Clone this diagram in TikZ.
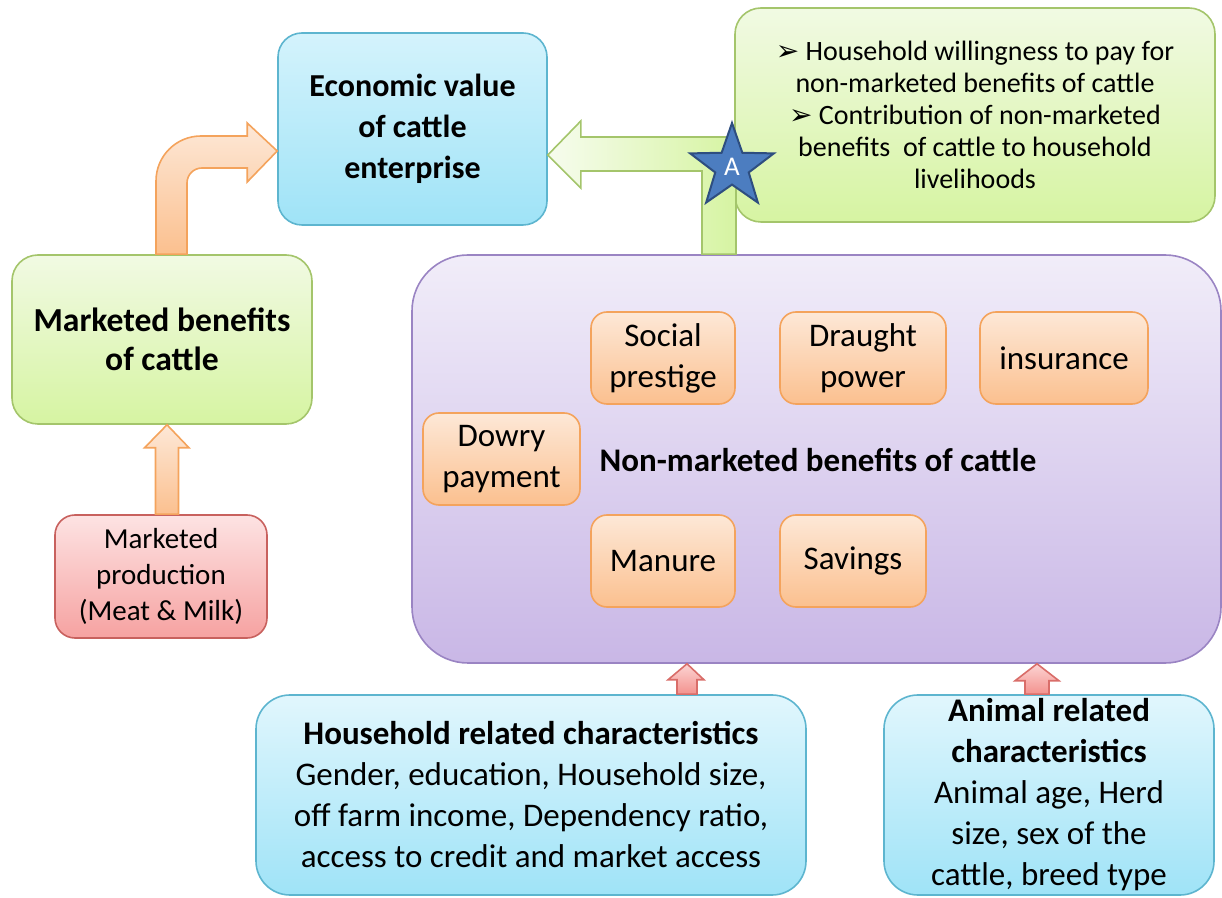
\documentclass[tikz,border=0pt]{standalone}
\usepackage{fontspec}
\setmainfont{Carlito}
\newfontfamily\symfont{DejaVu Sans}
\usetikzlibrary{calc,shapes.geometric}

\definecolor{skytop}{HTML}{D4F3FC}
\definecolor{skybot}{HTML}{9FE3F7}
\definecolor{skyline}{HTML}{5DB5CF}
\definecolor{leaftop}{HTML}{F1FAE3}
\definecolor{leafbot}{HTML}{D6F4A2}
\definecolor{leafline}{HTML}{A4C56B}
\definecolor{peachtop}{HTML}{FDE8D7}
\definecolor{peachbot}{HTML}{FBC08F}
\definecolor{peachline}{HTML}{F4A35C}
\definecolor{rosetop}{HTML}{FDE3E3}
\definecolor{rosebot}{HTML}{F6A2A1}
\definecolor{roseline}{HTML}{C8615E}
\definecolor{lilactop}{HTML}{F1EDF9}
\definecolor{lilacbot}{HTML}{C9B7E6}
\definecolor{lilacline}{HTML}{9A84C3}
\definecolor{pinktop}{HTML}{FCD4D3}
\definecolor{pinkbot}{HTML}{F3928E}
\definecolor{pinkline}{HTML}{D96D69}
\definecolor{starblue}{HTML}{4C7DC0}
\definecolor{starline}{HTML}{2E4E80}

\newcommand\pointer{{\symfont\char"27A2}\ }

\begin{document}
\begin{tikzpicture}[x=0.5pt,y=-0.5pt,
    box/.style={draw,line width=0.8pt,align=center,inner sep=0pt},
    valuebox/.style={box,rounded corners=12pt,top color=skytop,bottom color=skybot,draw=skyline},
    leafbox/.style={box,rounded corners=13pt,top color=leaftop,bottom color=leafbot,draw=leafline},
    rosebox/.style={box,rounded corners=10pt,top color=rosetop,bottom color=rosebot,draw=roseline},
    lilacbox/.style={box,rounded corners=28pt,top color=lilactop,bottom color=lilacbot,draw=lilacline},
    benefit/.style={box,rounded corners=8pt,top color=peachtop,bottom color=peachbot,draw=peachline,
      minimum height=46pt,font=\fontsize{16.5}{20.5}\selectfont},
    driver/.style={box,rounded corners=17pt,top color=skytop!70!white,bottom color=skybot,draw=skyline,
      minimum height=100pt,font=\fontsize{16.5}{20.5}\selectfont},
    peacharrow/.style={draw=peachline,line width=0.8pt,top color=peachtop,bottom color=peachbot},
    leafarrow/.style={draw=leafline,line width=0.8pt,left color=leaftop!60!white,right color=leafbot},
    pinkarrow/.style={draw=pinkline,line width=0.8pt,top color=pinktop,bottom color=pinkbot}]
\useasboundingbox (0,0) rectangle (1222,898);

% value and its two sources
\node[valuebox,minimum width=134.5pt,minimum height=96pt,font=\fontsize{16}{20.5}\selectfont\bfseries]
  (econ) at (412.5,129) {Economic value\\of cattle\\enterprise};
\node[leafbox,minimum width=240pt,minimum height=107pt,font=\fontsize{14}{16}\selectfont]
  (wtp) at (975,115) {\pointer Household willingness to pay for\\non-marketed benefits of cattle\\
  \pointer Contribution of non-marketed\\benefits~ of cattle to household\\livelihoods};
\node[leafbox,minimum width=150pt,minimum height=84.5pt,font=\fontsize{16.8}{19.5}\selectfont\bfseries]
  (mkt) at (162,339.5) {Marketed benefits\\of cattle};
\node[rosebox,minimum width=106pt,minimum height=61.5pt,font=\fontsize{14.5}{18}\selectfont]
  (prod) at (161,576.5) {Marketed\\production\\(Meat \& Milk)};

% non-marketed benefits
\node[lilacbox,minimum width=404.5pt,minimum height=204pt] (nonmkt) at (816.5,459) {};
\node[font=\fontsize{16.5}{20}\selectfont\bfseries] (nonlabel) at (818,460) {Non-marketed benefits of cattle};
\node[benefit,minimum width=72pt] (social) at (663,358) {Social\\prestige};
\node[benefit,minimum width=83pt] (draught) at (863,358) {Draught\\power};
\node[benefit,minimum width=84pt] (insur) at (1064,358) {insurance};
\node[benefit,minimum width=78.5pt] (dowry) at (501.5,459) {Dowry\\payment};
\node[benefit,minimum width=72pt] (manure) at (663,561) {Manure};
\node[benefit,minimum width=73pt] (savings) at (853,561) {Savings};

% characteristics
\node[driver,minimum width=275pt] (house) at (531,795)
  {\textbf{Household related characteristics}\\Gender, education, Household size,\\
  off farm income, Dependency ratio,\\access to credit and market access};
\node[driver,minimum width=165pt] (animal) at (1049,795)
  {\textbf{Animal related}\\\textbf{characteristics}\\Animal age, Herd\\size, sex of the\\cattle, breed type};

% block arrows
\coordinate (prodtail) at ([xshift=3pt]prod.north);
\coordinate (prodtip) at (prodtail |- mkt.south);
\filldraw[peacharrow] ($(prodtail)+(-11.5,0)$) -- ($(prodtip)+(-11.5,23)$) -- ++(-11,0) -- (prodtip)
  -- ($(prodtip)+(22,23)$) -- ++(-10.5,0) -- ($(prodtail)+(11.5,0)$) -- cycle;

\coordinate (bendtail) at ([xshift=4.75pt]mkt.north);
\coordinate (bendtip) at ([yshift=-11pt]econ.west);
\filldraw[peacharrow] ($(bendtail)+(-15.5,0)$) -- ($(bendtail |- bendtip)+(-15.5,30)$)
  arc[start angle=180,end angle=270,radius=45] -- ($(bendtip)+(-30,-15)$) -- ++(0,-13) -- (bendtip)
  -- ($(bendtip)+(-30,31)$) -- ++(0,-14) -- ($(bendtail |- bendtip)+(30.5,17)$)
  arc[start angle=270,end angle=180,radius=15] -- ($(bendtail)+(15.5,0)$) -- cycle;

\coordinate (leaftail) at ([xshift=-48.75pt]nonmkt.north);
\coordinate (leaftip) at ([yshift=-13pt]econ.east);
\filldraw[leafarrow] ($(leaftail)+(17,0)$) |- ($(leaftip)+(33,-18)$) -- ++(0,-16) -- (leaftip)
  -- ($(leaftip)+(33,33)$) -- ++(0,-17) -| ($(leaftail)+(-17,0)$) -- cycle;

\coordinate (housetail) at ([xshift=78pt]house.north);
\coordinate (housetip) at (housetail |- nonmkt.south);
\filldraw[pinkarrow] ($(housetail)+(-10,0)$) -- ($(housetip)+(-10,16)$) -- ++(-9,0) -- (housetip)
  -- ($(housetip)+(17,16)$) -- ++(-7,0) -- ($(housetail)+(10,0)$) -- cycle;

\coordinate (animaltail) at ([xshift=-6pt]animal.north);
\coordinate (animaltip) at (animaltail |- nonmkt.south);
\filldraw[pinkarrow] ($(animaltail)+(-12,0)$) -- ($(animaltip)+(-12,17)$) -- ++(-10,0) -- (animaltip)
  -- ($(animaltip)+(22,17)$) -- ++(-10,0) -- ($(animaltail)+(12,0)$) -- cycle;

% marker on the corner of the green arrow
\node[star,star points=5,star point ratio=2.5,minimum size=44pt,inner sep=0pt,
  fill=starblue,draw=starline,line width=1pt,text=white,font=\fontsize{13.5}{13.5}\selectfont]
  (mark) at (732,167) {A};
\end{tikzpicture}
\end{document}
